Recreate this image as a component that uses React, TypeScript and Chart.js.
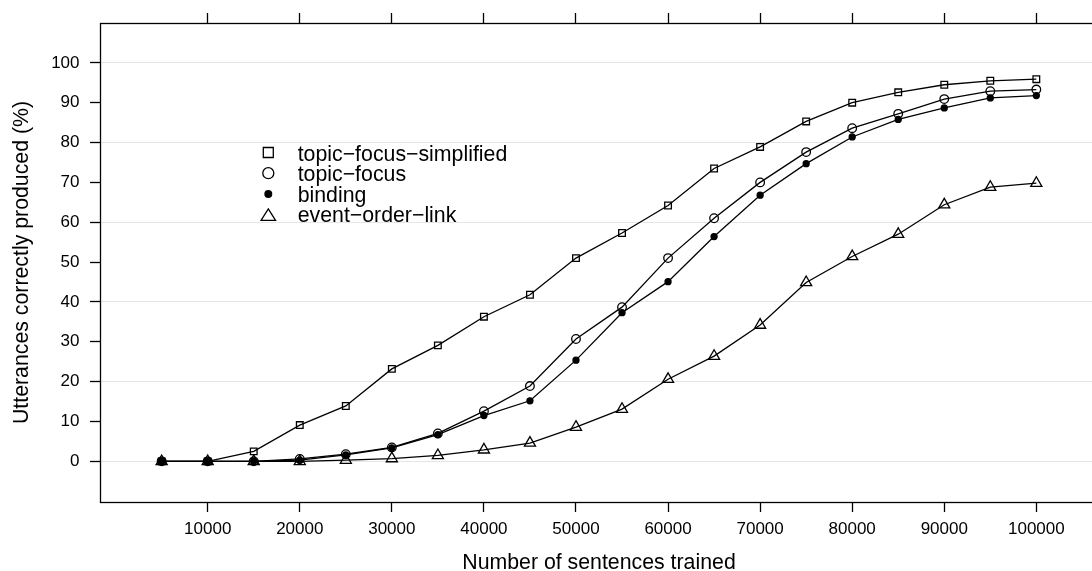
import React, { useEffect, useRef } from 'react';
import { Chart, registerables } from 'chart.js';

Chart.register(...registerables);

// ---- data ----
const sentencesTrained = [
  5000, 10000, 15000, 20000, 25000, 30000, 35000, 40000, 45000, 50000,
  55000, 60000, 65000, 70000, 75000, 80000, 85000, 90000, 95000, 100000,
];
const topicFocusSimplified = [
  0, 0, 2.5, 9.1, 13.9, 23.2, 29.1, 36.3, 41.8, 51.0,
  57.3, 64.2, 73.5, 78.9, 85.3, 90.0, 92.6, 94.5, 95.5, 95.9,
];
const topicFocus = [
  0, 0, 0, 0.6, 1.8, 3.5, 7.0, 12.6, 18.9, 30.7,
  38.7, 51.0, 61.0, 70.0, 77.6, 83.6, 87.2, 90.9, 92.9, 93.3,
];
const binding = [
  0, 0, 0, 0.3, 1.6, 3.4, 6.7, 11.5, 15.2, 25.4,
  37.3, 45.1, 56.4, 66.8, 74.7, 81.4, 85.8, 88.7, 91.2, 91.8,
];
const eventOrderLink = [
  0, 0, 0, 0, 0.3, 0.7, 1.5, 2.9, 4.6, 8.6,
  13.1, 20.6, 26.4, 34.2, 44.9, 51.4, 57.0, 64.4, 68.8, 69.8,
];
const seriesLabels = [
  'topic\u2212focus\u2212simplified',
  'topic\u2212focus',
  'binding',
  'event\u2212order\u2212link',
];
const xTickValues = [10000, 20000, 30000, 40000, 50000, 60000, 70000, 80000, 90000, 100000];
const yTickValues = [0, 10, 20, 30, 40, 50, 60, 70, 80, 90, 100];
const yGridStep = 20;
const xTitle = 'Number of sentences trained';
const yTitle = 'Utterances correctly produced (%)';

const FONT = "'Liberation Sans', Arial, Helvetica, sans-serif";
const LW = 1.3;

const toPoints = (ys: number[]) => ys.map((y, i) => ({ x: sentencesTrained[i], y }));

const framePlugin = {
  id: 'frame',
  afterDraw(chart: any) {
    const { ctx, chartArea: a } = chart;
    ctx.save();
    ctx.strokeStyle = '#000';
    ctx.lineWidth = LW;
    ctx.strokeRect(
      Math.round(a.left) + 0.5,
      Math.round(a.top) + 0.5,
      Math.round(a.right - a.left),
      Math.round(a.bottom - a.top)
    );
    ctx.restore();
  },
};

const legendMarkers = ['square', 'circle', 'dot', 'triangle'];

const legendPlugin = {
  id: 'insetLegend',
  afterDraw(chart: any) {
    const ctx = chart.ctx as CanvasRenderingContext2D;
    ctx.save();
    ctx.font = `21.3px ${FONT}`;
    ctx.fillStyle = '#000';
    ctx.strokeStyle = '#000';
    ctx.lineWidth = LW;
    ctx.textAlign = 'left';
    ctx.textBaseline = 'alphabetic';
    const mx = 268.3;
    seriesLabels.forEach((label, i) => {
      const my = 152.5 + 20.7 * i;
      const ty = 160.9 + 20.3 * i;
      const m = legendMarkers[i];
      ctx.beginPath();
      if (m === 'square') {
        ctx.rect(mx - 5, my - 5, 10, 10);
        ctx.stroke();
      } else if (m === 'circle') {
        ctx.arc(mx, my, 5.5, 0, Math.PI * 2);
        ctx.stroke();
      } else if (m === 'dot') {
        ctx.arc(mx, my, 4, 0, Math.PI * 2);
        ctx.fill();
      } else {
        const w = 14.5, h = 11.5;
        ctx.moveTo(mx, my - h / 2);
        ctx.lineTo(mx + w / 2, my + h / 2);
        ctx.lineTo(mx - w / 2, my + h / 2);
        ctx.closePath();
        ctx.stroke();
      }
      ctx.fillText(label, 297.7, ty);
    });
    ctx.restore();
  },
};

export default function App() {
  const canvasRef = useRef<HTMLCanvasElement | null>(null);

  useEffect(() => {
    document.body.style.margin = '0';
    document.body.style.overflow = 'hidden';
    const canvas = canvasRef.current;
    if (!canvas) return;

    const common = {
      borderColor: '#000',
      borderWidth: LW,
      pointBorderColor: '#000',
      pointBorderWidth: LW,
      tension: 0,
      fill: false,
    };

    const setXTicks = (scale: any) => {
      scale.ticks = xTickValues.map((v) => ({ value: v }));
    };

    const chart = new Chart(canvas, {
      type: 'line',
      data: {
        datasets: [
          {
            ...common,
            label: seriesLabels[0],
            data: toPoints(topicFocusSimplified),
            pointStyle: 'rect',
            pointRadius: 4.7,
            pointBackgroundColor: 'rgba(0,0,0,0)',
            order: 4,
          },
          {
            ...common,
            label: seriesLabels[1],
            data: toPoints(topicFocus),
            pointStyle: 'circle',
            pointRadius: 4.3,
            pointBackgroundColor: 'rgba(0,0,0,0)',
            order: 3,
          },
          {
            ...common,
            label: seriesLabels[2],
            data: toPoints(binding),
            pointStyle: 'circle',
            pointRadius: 3,
            pointBackgroundColor: '#000',
            order: 2,
          },
          {
            ...common,
            label: seriesLabels[3],
            data: toPoints(eventOrderLink),
            pointStyle: 'triangle',
            pointRadius: 6.4,
            pointBackgroundColor: 'rgba(0,0,0,0)',
            order: 1,
          },
        ] as any,
      },
      options: {
        animation: false,
        responsive: false,
        devicePixelRatio: 1,
        layout: { padding: { left: 0, right: 12, top: 0, bottom: 0 } },
        plugins: {
          legend: { display: false },
          tooltip: { enabled: false },
          title: { display: false },
        },
        elements: { point: { hoverRadius: 0 } },
        scales: {
          x: {
            type: 'linear',
            position: 'bottom',
            min: -1698,
            max: 106698,
            afterBuildTicks: setXTicks,
            afterFit: (scale: any) => {
              scale.height = 69;
            },
            ticks: {
              autoSkip: false,
              maxRotation: 0,
              minRotation: 0,
              padding: 7.3,
              color: '#000',
              font: { size: 17, family: FONT },
              callback: (v: any) => String(v),
            },
            grid: {
              display: true,
              drawOnChartArea: false,
              drawTicks: true,
              tickLength: 10,
              tickColor: '#000',
              tickWidth: LW,
            },
            border: { display: false },
            title: {
              display: true,
              text: xTitle,
              color: '#000',
              font: { size: 21.3, family: FONT },
              padding: { top: 0, bottom: -4.5 },
            },
          },
          xTop: {
            type: 'linear',
            position: 'top',
            min: -1698,
            max: 106698,
            afterBuildTicks: setXTicks,
            afterFit: (scale: any) => {
              scale.height = 23;
            },
            ticks: { display: false },
            grid: {
              display: true,
              drawOnChartArea: false,
              drawTicks: true,
              tickLength: 10,
              tickColor: '#000',
              tickWidth: LW,
            },
            border: { display: false },
          },
          y: {
            type: 'linear',
            position: 'left',
            min: -10.2,
            max: 110,
            afterBuildTicks: (scale: any) => {
              scale.ticks = yTickValues.map((v) => ({ value: v }));
            },
            afterFit: (scale: any) => {
              scale.width = 100;
            },
            ticks: {
              autoSkip: false,
              padding: 10.5,
              color: '#000',
              font: { size: 17, family: FONT },
              callback: (v: any) => String(v),
            },
            grid: {
              display: true,
              drawOnChartArea: true,
              drawTicks: true,
              tickLength: 10,
              tickColor: '#000',
              tickWidth: LW,
              lineWidth: 1,
              color: (ctx: any) =>
                ctx.tick && ctx.tick.value % yGridStep === 0 ? '#e5e5e5' : 'rgba(0,0,0,0)',
            },
            border: { display: false },
            title: {
              display: true,
              text: yTitle,
              color: '#000',
              font: { size: 21.3, family: FONT },
              padding: { top: 9, bottom: 0 },
            },
          },
        },
      } as any,
      plugins: [framePlugin, legendPlugin],
    });

    return () => {
      chart.destroy();
    };
  }, []);

  return (
    <div style={{ width: 1092, height: 571, overflow: 'hidden', position: 'relative', background: '#fff' }}>
      <canvas ref={canvasRef} width={1110} height={571} style={{ display: 'block', width: 1110, height: 571 }} />
    </div>
  );
}
